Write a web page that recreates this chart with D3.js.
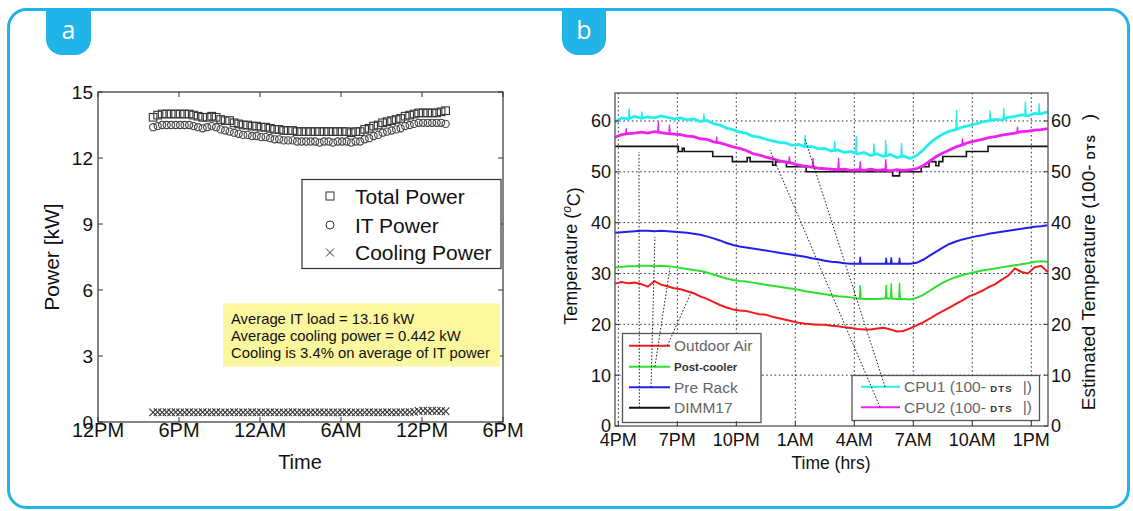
<!DOCTYPE html>
<html><head><meta charset="utf-8">
<script src="https://cdn.jsdelivr.net/npm/d3@7"></script>
<style>
body{margin:0;background:#fff;}
svg{display:block;font-family:Arial,"Liberation Sans",sans-serif;}
</style></head><body>
<svg id="c" width="1133" height="511"></svg>
<script>
// ================= DATA =================
// Panel a
const aTickHours = [12, 18, 24, 30, 36, 42];
const aTickLabels = ["12PM", "6PM", "12AM", "6AM", "12PM", "6PM"];
const aYTicks = [0, 3, 6, 9, 12, 15];
const aStartHour = 16.0833, aStepHours = 1 / 3;
const aSeriesNames = ["Total Power", "IT Power", "Cooling Power"];
const totalPower = [13.85,13.95,14.0,14.0,14.0,14.0,14.0,14.0,14.0,13.95,
 13.9,13.85,13.85,13.9,13.85,13.75,13.7,13.7,13.6,13.55,
 13.5,13.5,13.45,13.45,13.4,13.4,13.35,13.3,13.3,13.25,
 13.25,13.25,13.2,13.2,13.2,13.2,13.2,13.2,13.2,13.2,
 13.2,13.2,13.2,13.2,13.15,13.2,13.2,13.3,13.35,13.45,
 13.5,13.6,13.65,13.7,13.75,13.8,13.9,13.95,14.0,14.05,
 14.05,14.05,14.05,14.05,14.1,14.15];
const itPower = [13.4,13.45,13.5,13.5,13.5,13.5,13.5,13.5,13.5,13.45,
 13.4,13.35,13.4,13.45,13.4,13.3,13.25,13.2,13.15,13.1,
 13.05,13.05,13.0,13.0,12.95,12.95,12.9,12.85,12.85,12.8,
 12.8,12.8,12.75,12.75,12.75,12.75,12.75,12.7,12.75,12.75,
 12.7,12.75,12.75,12.75,12.7,12.75,12.75,12.85,12.9,13.0,
 13.05,13.15,13.2,13.25,13.3,13.35,13.45,13.5,13.55,13.6,
 13.6,13.6,13.6,13.6,13.6,13.55];
const coolingPower = [0.44,0.45,0.44,0.45,0.44,0.45,0.44,0.44,0.45,0.44,
 0.44,0.45,0.44,0.44,0.45,0.44,0.44,0.44,0.45,0.44,
 0.44,0.44,0.45,0.44,0.44,0.44,0.45,0.44,0.44,0.44,
 0.44,0.45,0.44,0.44,0.44,0.44,0.44,0.45,0.44,0.44,
 0.44,0.44,0.44,0.45,0.44,0.44,0.44,0.44,0.45,0.44,
 0.44,0.44,0.45,0.44,0.44,0.45,0.44,0.45,0.46,0.50,
 0.51,0.50,0.51,0.50,0.50,0.49];
const aNote = ["Average IT load = 13.16 kW", "Average cooling power = 0.442 kW", "Cooling is 3.4% on average of IT power"];

// Panel b
const bTickHours = [16, 19, 22, 25, 28, 31, 34, 37];
const bTickLabels = ["4PM", "7PM", "10PM", "1AM", "4AM", "7AM", "10AM", "1PM"];
const bYTicks = [0, 10, 20, 30, 40, 50, 60];
const bStartHour = 15.8333, bStepHours = 1 / 3;
const outdoorAir = [28.0,28.3,28.1,28.2,27.9,27.4,28.5,27.8,27.5,27.1,
 26.9,26.5,26.1,25.5,25.0,24.4,23.8,23.3,22.9,22.7,
 22.6,22.3,22.0,21.9,21.5,21.2,20.9,20.6,20.3,20.1,
 20.0,19.9,19.9,19.7,19.6,19.4,19.3,19.1,19.0,19.0,
 19.2,19.3,19.0,18.6,18.7,19.2,19.8,20.4,21.1,21.9,
 22.6,23.3,24.0,24.7,25.5,26.0,26.6,27.3,27.9,28.8,
 29.6,31.0,30.3,30.0,31.2,31.5,30.3];
const postCooler = [31.2,31.3,31.4,31.4,31.5,31.5,31.4,31.5,31.4,31.3,
 31.1,30.9,30.7,30.5,30.2,29.8,29.4,29.0,28.7,28.5,
 28.4,28.2,28.0,27.8,27.6,27.4,27.2,27.0,26.8,26.5,
 26.3,26.1,25.9,25.7,25.5,25.4,25.3,25.1,25.0,25.0,
 25.0,25.1,25.1,25.0,25.0,24.9,25.2,25.8,26.6,27.4,
 28.2,28.8,29.3,29.7,30.0,30.3,30.6,30.8,31.0,31.2,
 31.4,31.6,31.8,32.0,32.3,32.4,32.3];
const preRack = [38.0,38.1,38.2,38.3,38.4,38.4,38.3,38.4,38.3,38.2,
 38.1,38.0,37.8,37.6,37.3,36.9,36.5,36.0,35.6,35.3,
 35.1,34.9,34.7,34.5,34.3,34.1,33.9,33.7,33.5,33.3,
 33.0,32.8,32.5,32.3,32.2,32.0,31.9,31.9,31.9,31.9,
 31.9,31.9,31.9,31.9,31.9,31.9,32.1,32.7,33.5,34.3,
 35.1,35.8,36.3,36.7,37.0,37.3,37.5,37.8,38.0,38.2,
 38.4,38.6,38.8,39.0,39.2,39.3,39.5];
const cpu1 = [59.8,60.6,60.4,60.9,60.5,60.8,60.6,61.0,60.7,60.4,
 60.6,60.2,60.4,59.9,60.1,59.5,59.2,58.6,58.3,57.8,
 57.6,57.0,56.8,56.4,56.1,55.8,55.7,55.2,55.4,54.9,
 55.0,54.5,54.6,54.1,54.3,53.8,54.0,53.5,53.8,53.2,
 53.5,53.0,53.4,52.8,53.1,52.6,53.2,54.3,55.6,56.6,
 57.4,58.0,58.3,58.8,59.1,59.4,59.8,60.0,60.3,60.2,
 60.7,60.9,61.2,61.0,61.5,61.4,61.8];
const cpu2 = [56.8,57.3,57.5,57.6,57.8,57.6,57.9,57.7,57.5,57.4,
 57.3,57.0,56.9,56.5,56.4,55.9,55.7,55.3,54.9,54.6,
 54.2,53.6,53.3,52.9,52.6,52.2,51.9,51.7,51.3,51.1,
 50.9,50.7,50.6,50.5,50.4,50.5,50.3,50.4,50.3,50.5,
 50.3,50.4,50.2,50.4,50.3,50.4,50.6,51.2,52.1,53.0,
 53.7,54.3,54.9,55.3,55.8,56.1,56.4,56.7,56.9,57.2,
 57.4,57.6,57.9,58.0,58.2,58.3,58.5];
// DIMM17: step changes (hour, value)
const dimmHours = [15.83,19.05,19.25,19.35,20.8,21.8,22.55,22.7,23.85,24.0,24.55,25.55,29.95,30.3,31.4,31.8,32.15,32.3,32.5,33.7,34.8,37.85];
const dimm17 =    [55,   54,   54.6, 54,   53,  52,  52.8, 52,  51.3, 52,  51,   50,   49.2, 50,  51,  52,  51.2, 52,  53,  54,  55,  55];
// short spikes: [hour, base, peak]
const preRackSpikes = [[28.3,31.9,33.2],[29.62,31.9,33.0],[29.88,31.9,33.1],[30.3,31.9,33.0]];
const postCoolerSpikes = [[28.3,25.1,27.6],[29.62,25.1,27.7],[29.88,25.1,28.0],[30.3,25.0,28.1]];
const cpu1Spikes = [[16.55,60.4,62.4],[17.2,60.6,61.8],[20.35,60.0,61.4],[25.5,55.0,57.2],[27.0,54.2,56.0],[28.1,53.6,57.0],[29.0,53.3,55.5],[29.6,53.2,56.2],[30.4,53.0,55.6],[33.2,58.3,62.1],[34.9,60.0,62.0],[35.6,60.3,62.5],[36.7,61.0,63.7],[37.4,61.4,63.4]];
const cpu2Spikes = [[16.4,57.4,58.5],[18.03,57.7,59.8],[18.6,57.5,59.2],[21.0,55.8,56.8],[24.7,51.8,53.0],[25.9,50.9,52.7],[27.2,50.4,52.7],[28.3,50.4,52.0],[29.6,50.4,52.4],[33.5,55.3,56.5],[36.3,57.7,58.8]];
const bLegendLeft = ["Outdoor Air", "Post-cooler", "Pre Rack", "DIMM17"];
const bLegendRight = ["CPU1", "CPU2"];
// leader lines (hour, value) -> (hour, value)
const leaders = [[17.07,3.6,17.05,53.9],[17.66,7.6,17.86,37.2],[17.86,11.7,18.62,31.0],[18.49,15.8,19.72,26.4],[29.56,7.7,25.48,56.6],[29.31,3.7,23.71,54.3]];

// ================= DRAW =================
const svg = d3.select("#c");
const BLUE = "#21B4E8";
const INK = "#111";

// outer frame and tabs
svg.append("rect").attr("x", 8.5).attr("y", 9.5).attr("width", 1120).attr("height", 498)
  .attr("rx", 18).attr("fill", "none").attr("stroke", BLUE).attr("stroke-width", 3);
function tab(x0, x1, label) {
  const y0 = 8, y1 = 55, r = 16;
  svg.append("path").attr("d", `M${x0},${y0}H${x1}V${y1 - r}A${r},${r} 0 0 1 ${x1 - r},${y1}H${x0 + r}A${r},${r} 0 0 1 ${x0},${y1 - r}Z`).attr("fill", BLUE);
  svg.append("text").attr("x", (x0 + x1) / 2).attr("y", 39).attr("text-anchor", "middle")
    .attr("fill", "#fff").attr("font-size", 25).attr("font-family", "'Open Sans',Arial,sans-serif").text(label);
}
tab(46, 91, "a");
tab(562, 606, "b");

// ---------- Panel a ----------
const xa = d3.scaleLinear().domain([12, 42]).range([98, 503]);
const ya = d3.scaleLinear().domain([0, 15]).range([422, 92]);
const ga = svg.append("g");
const tA = i => aStartHour + i * aStepHours;

// cooling x marks
ga.append("g").selectAll("path").data(coolingPower).join("path")
  .attr("d", (d, i) => { const x = xa(tA(i)), y = ya(d), s = 3.8; return `M${x - s},${y - s}L${x + s},${y + s}M${x - s},${y + s}L${x + s},${y - s}`; })
  .attr("stroke", "#333").attr("stroke-width", 1.1).attr("fill", "none");
// IT circles
ga.append("g").selectAll("circle").data(itPower).join("circle")
  .attr("cx", (d, i) => xa(tA(i))).attr("cy", d => ya(d)).attr("r", 3.6)
  .attr("fill", "none").attr("stroke", "#444").attr("stroke-width", 1.1);
// total squares
ga.append("g").selectAll("rect").data(totalPower).join("rect")
  .attr("x", (d, i) => xa(tA(i)) - 3.8).attr("y", d => ya(d) - 3.8).attr("width", 7.6).attr("height", 7.6)
  .attr("fill", "none").attr("stroke", "#333").attr("stroke-width", 1.1);

// frame & ticks
ga.append("rect").attr("x", 98).attr("y", 92).attr("width", 405).attr("height", 330)
  .attr("fill", "none").attr("stroke", "#333").attr("stroke-width", 1.2);
aYTicks.forEach(v => {
  ga.append("line").attr("x1", 98).attr("x2", 103).attr("y1", ya(v)).attr("y2", ya(v)).attr("stroke", "#333");
  ga.append("line").attr("x1", 498).attr("x2", 503).attr("y1", ya(v)).attr("y2", ya(v)).attr("stroke", "#333");
  ga.append("text").attr("x", 93).attr("y", ya(v)).attr("dy", "0.36em").attr("text-anchor", "end")
    .attr("font-size", 19).attr("fill", INK).text(v);
});
aTickHours.forEach((h, i) => {
  ga.append("line").attr("x1", xa(h)).attr("x2", xa(h)).attr("y1", 422).attr("y2", 417).attr("stroke", "#333");
  ga.append("line").attr("x1", xa(h)).attr("x2", xa(h)).attr("y1", 92).attr("y2", 97).attr("stroke", "#333");
  ga.append("text").attr("x", xa(h)).attr("y", 437).attr("text-anchor", "middle")
    .attr("font-size", 20).attr("fill", INK).text(aTickLabels[i]);
});
ga.append("text").attr("x", 300).attr("y", 469).attr("text-anchor", "middle").attr("font-size", 20).attr("fill", INK).text("Time");
ga.append("text").attr("transform", "translate(59,257) rotate(-90)").attr("text-anchor", "middle")
  .attr("font-size", 21).attr("fill", INK).text("Power [kW]");

// legend a
ga.append("rect").attr("x", 302).attr("y", 179.5).attr("width", 199).attr("height", 89)
  .attr("fill", "#fff").attr("stroke", "#333").attr("stroke-width", 1.2);
const legY = [196, 225, 252.5];
ga.append("rect").attr("x", 326).attr("y", legY[0] - 4).attr("width", 8).attr("height", 8).attr("fill", "none").attr("stroke", "#333");
ga.append("circle").attr("cx", 330).attr("cy", legY[1]).attr("r", 4).attr("fill", "none").attr("stroke", "#333");
ga.append("path").attr("d", `M326,${legY[2] - 4}L334,${legY[2] + 4}M326,${legY[2] + 4}L334,${legY[2] - 4}`).attr("stroke", "#333");
aSeriesNames.forEach((n, i) => {
  ga.append("text").attr("x", 355).attr("y", legY[i]).attr("dy", "0.36em").attr("font-size", 21).attr("fill", INK).text(n);
});
// note
ga.append("rect").attr("x", 223).attr("y", 303.5).attr("width", 277).attr("height", 63).attr("fill", "#FBF79E");
aNote.forEach((t, i) => {
  ga.append("text").attr("x", 231).attr("y", 323.5 + i * 17.4).attr("font-size", 14.8).attr("fill", INK).text(t);
});

// ---------- Panel b ----------
const xb = d3.scaleLinear().domain([15.83, 37.85]).range([615, 1048]);
const yb = d3.scaleLinear().domain([0, 65.5]).range([426, 93]);
const gb = svg.append("g");
const tB = i => bStartHour + i * bStepHours;
const DOT = "1.6,2.6";

// grid
bYTicks.filter(v => v > 0).forEach(v => {
  gb.append("line").attr("x1", 615).attr("x2", 1048).attr("y1", yb(v)).attr("y2", yb(v))
    .attr("stroke", "#333").attr("stroke-width", 1).attr("stroke-dasharray", DOT);
});
bTickHours.forEach(h => {
  gb.append("line").attr("x1", xb(h)).attr("x2", xb(h)).attr("y1", 93).attr("y2", 426)
    .attr("stroke", "#333").attr("stroke-width", 1).attr("stroke-dasharray", DOT);
});

const lineB = d3.line().x((d, i) => xb(tB(i))).y(d => yb(d));
function spikes(arr, color, w) {
  gb.append("g").selectAll("path").data(arr).join("path")
    .attr("d", d => `M${xb(d[0] - 0.035)},${yb(d[1])}L${xb(d[0])},${yb(d[2])}L${xb(d[0] + 0.035)},${yb(d[1])}`)
    .attr("fill", "none").attr("stroke", color).attr("stroke-width", w).attr("stroke-linejoin", "round");
}
const COLORS = { red: "#F21A1A", green: "#2EE02E", blue: "#2020EE", black: "#111", cyan: "#22EEEE", magenta: "#EE22EE" };

gb.append("path").datum(outdoorAir).attr("d", lineB).attr("fill", "none").attr("stroke", COLORS.red).attr("stroke-width", 2);
gb.append("path").datum(postCooler).attr("d", lineB).attr("fill", "none").attr("stroke", COLORS.green).attr("stroke-width", 2);
spikes(postCoolerSpikes, COLORS.green, 1.5);
gb.append("path").datum(preRack).attr("d", lineB).attr("fill", "none").attr("stroke", COLORS.blue).attr("stroke-width", 2);
spikes(preRackSpikes, COLORS.blue, 1.5);
const dimmLine = d3.line().x((d, i) => xb(dimmHours[i])).y(d => yb(d)).curve(d3.curveStepAfter);
gb.append("path").datum(dimm17).attr("d", dimmLine).attr("fill", "none").attr("stroke", COLORS.black).attr("stroke-width", 1.6);
gb.append("path").datum(cpu2).attr("d", lineB).attr("fill", "none").attr("stroke", COLORS.magenta).attr("stroke-width", 2.8);
spikes(cpu2Spikes, COLORS.magenta, 1.3);
gb.append("path").datum(cpu1).attr("d", lineB).attr("fill", "none").attr("stroke", COLORS.cyan).attr("stroke-width", 2.8);
spikes(cpu1Spikes, COLORS.cyan, 1.3);

// legends
gb.append("rect").attr("x", 622.5).attr("y", 333.5).attr("width", 138.5).attr("height", 89)
  .attr("fill", "#fff").attr("stroke", "#555").attr("stroke-width", 1.3);
const lColors = [COLORS.red, COLORS.green, COLORS.blue, COLORS.black];
const lY = [345.7, 366.7, 387.3, 407.7];
bLegendLeft.forEach((n, i) => {
  gb.append("line").attr("x1", 629).attr("x2", 670).attr("y1", lY[i]).attr("y2", lY[i]).attr("stroke", lColors[i]).attr("stroke-width", 2);
  const t = gb.append("text").attr("x", 674).attr("y", lY[i]).attr("dy", "0.36em").text(n);
  if (i === 1) t.attr("font-size", 11.5).attr("font-weight", "bold").attr("fill", "#333");
  else t.attr("font-size", 15.5).attr("fill", "#666");
});
gb.append("rect").attr("x", 852).attr("y", 375.5).attr("width", 187.5).attr("height", 45)
  .attr("fill", "#fff").attr("stroke", "#555").attr("stroke-width", 1.3);
const rColors = [COLORS.cyan, COLORS.magenta];
const rY = [386.7, 407.3];
bLegendRight.forEach((n, i) => {
  gb.append("line").attr("x1", 861).attr("x2", 900).attr("y1", rY[i]).attr("y2", rY[i]).attr("stroke", rColors[i]).attr("stroke-width", 2);
  const t = gb.append("text").attr("x", 904).attr("y", rY[i]).attr("dy", "0.36em").attr("font-size", 15.5).attr("fill", "#666");
  t.append("tspan").text(n + " (100- ");
  t.append("tspan").attr("font-size", 9.5).attr("font-weight", "bold").attr("fill", "#333").attr("letter-spacing", 1.2).attr("dy", "-0.05em").text("DTS");
  t.append("tspan").attr("dx", 10).text("|)");
});

// leader lines
gb.append("g").selectAll("line").data(leaders).join("line")
  .attr("x1", d => xb(d[0])).attr("y1", d => yb(d[1])).attr("x2", d => xb(d[2])).attr("y2", d => yb(d[3]))
  .attr("stroke", "#222").attr("stroke-width", 1).attr("stroke-dasharray", "1.6,1.8");

// axes box & ticks
gb.append("rect").attr("x", 615).attr("y", 93).attr("width", 433).attr("height", 333)
  .attr("fill", "none").attr("stroke", "#555").attr("stroke-width", 1.3);
bYTicks.forEach(v => {
  gb.append("line").attr("x1", 615).attr("x2", 619).attr("y1", yb(v)).attr("y2", yb(v)).attr("stroke", "#333");
  gb.append("line").attr("x1", 1044).attr("x2", 1048).attr("y1", yb(v)).attr("y2", yb(v)).attr("stroke", "#333");
  gb.append("text").attr("x", 611).attr("y", yb(v)).attr("dy", "0.36em").attr("text-anchor", "end").attr("font-size", 18).attr("fill", INK).text(v);
  gb.append("text").attr("x", 1051).attr("y", yb(v)).attr("dy", "0.36em").attr("text-anchor", "start").attr("font-size", 18).attr("fill", INK).text(v);
});
bTickHours.forEach((h, i) => {
  gb.append("line").attr("x1", xb(h)).attr("x2", xb(h)).attr("y1", 426).attr("y2", 421).attr("stroke", "#333");
  gb.append("text").attr("x", xb(h)).attr("y", 445.5).attr("text-anchor", "middle").attr("font-size", 18).attr("fill", INK).text(bTickLabels[i]);
});
gb.append("text").attr("x", 831).attr("y", 469).attr("text-anchor", "middle").attr("font-size", 17.5).attr("fill", INK).text("Time (hrs)");
const tl = gb.append("text").attr("transform", "translate(577,256) rotate(-90)").attr("text-anchor", "middle")
  .attr("font-size", 18).attr("fill", INK);
tl.append("tspan").text("Temperature (");
tl.append("tspan").attr("font-size", 12).attr("font-style", "italic").attr("dy", "-0.5em").text("o");
tl.append("tspan").attr("dy", "0.5em").text("C)");
const tr = gb.append("text").attr("transform", "translate(1095,262) rotate(-90)").attr("text-anchor", "middle")
  .attr("font-size", 19).attr("fill", INK);
tr.append("tspan").text("Estimated Temperature (100- ");
tr.append("tspan").attr("font-size", 11).attr("font-weight", "bold").attr("letter-spacing", 1).text("DTS");
tr.append("tspan").attr("dx", 14).text(")");
</script>
</body></html>
